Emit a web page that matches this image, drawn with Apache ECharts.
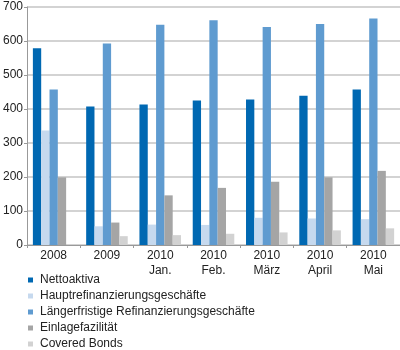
<!DOCTYPE html>
<html><head><meta charset="utf-8">
<script src="https://cdn.jsdelivr.net/npm/echarts@6/dist/echarts.min.js"></script>
<style>html,body{margin:0;padding:0;background:#fff}#c{width:400px;height:350px}</style>
</head><body><div id="c"></div>
<script>
const categories = ['2008', '2009', '2010\nJan.', '2010\nFeb.', '2010\nMärz', '2010\nApril', '2010\nMai'];
const seriesNames = ['Nettoaktiva', 'Hauptrefinanzierungsgeschäfte', 'Längerfristige Refinanzierungsgeschäfte', 'Einlagefazilität', 'Covered Bonds'];
const nettoaktiva = [579, 407, 413, 425, 428, 439, 457];
const hauptrefi = [337, 55, 60, 59, 80, 78, 76];
const laengerfristig = [457, 593, 648, 661, 641, 650, 666];
const einlage = [199, 66, 146, 168, 186, 199, 218];
const covered = [0, 26, 29, 33, 37, 43, 49];
const colors = ['#0068b2', '#c6d9ee', '#5f9bd0', '#a5a5a5', '#d2d2d2'];
const yTicks = [0, 100, 200, 300, 400, 500, 600, 700];

const data = [nettoaktiva, hauptrefi, laengerfristig, einlage, covered];
const font = 'Liberation Sans, Arial, sans-serif';
const chart = echarts.init(document.getElementById('c'));
chart.setOption({
  animation: false,
  color: colors,
  grid: { left: 25, right: 0, top: 7, bottom: 105 },
  legend: {
    orient: 'vertical', left: 28, top: 274, height: 90,
    padding: 0,
    itemWidth: 5, itemHeight: 5, itemGap: 4,
    icon: 'rect',
    textStyle: { fontFamily: font, fontSize: 12, color: '#222', lineHeight: 12, padding: [0, 0, 0, 2] },
    data: seriesNames
  },
  xAxis: {
    type: 'category', data: categories,
    axisLine: { lineStyle: { color: '#999', width: 1 } },
    axisTick: { show: true, length: 3, lineStyle: { color: '#999' } },
    axisLabel: { fontFamily: font, fontSize: 12, color: '#222', lineHeight: 15, margin: 3 }
  },
  yAxis: {
    type: 'value', min: yTicks[0], max: yTicks[yTicks.length - 1], interval: 100,
    axisLine: { show: true, lineStyle: { color: '#999', width: 1 } },
    axisTick: { show: true, length: 3, lineStyle: { color: '#999' } },
    splitLine: { lineStyle: { color: '#d3d3d3', width: 2 } },
    axisLabel: { fontFamily: font, fontSize: 12, color: '#222', margin: 4 }
  },
  series: seriesNames.map((n, i) => ({
    name: n, type: 'bar', data: data[i],
    barGap: '0%', barCategoryGap: '22%'
  }))
});
</script></body></html>
